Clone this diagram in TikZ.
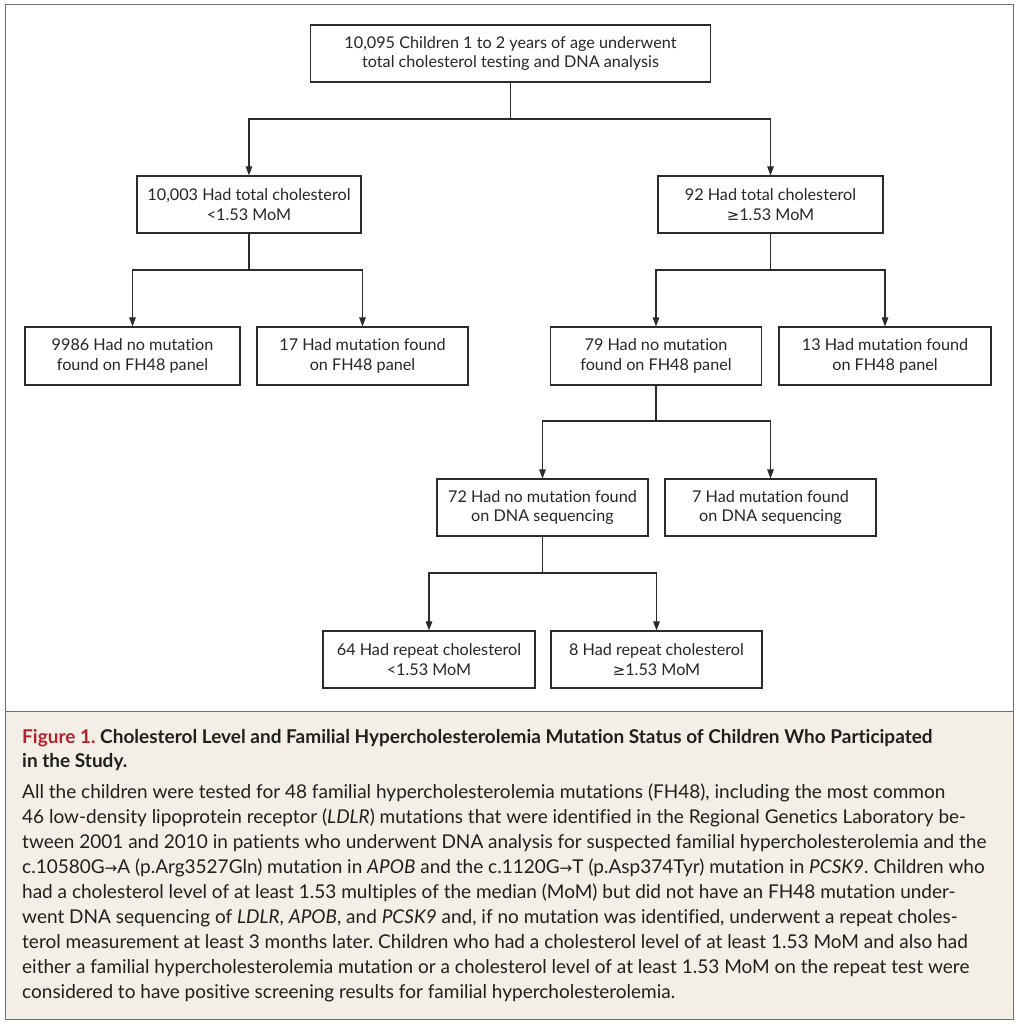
\documentclass[tikz,border=0pt]{standalone}
\usepackage{fontspec}
\setmainfont{Lato}[Ligatures=NoCommon]
\newfontfamily\symfont{DejaVu Sans}
\usetikzlibrary{arrows.meta}
\definecolor{framegray}{HTML}{6E6E6E}
\definecolor{capbg}{HTML}{F4EFE6}
\definecolor{figred}{HTML}{B3222E}
\definecolor{boxline}{HTML}{2B2B2B}
\newcommand{\gesym}{\scalebox{0.92}{\symfont ≥}}
\newcommand{\arsym}{\scalebox{0.8}{\symfont →}}
\frenchspacing
\begin{document}
\begin{tikzpicture}[x=1pt,y=-1pt,
  box/.style={draw=boxline, line width=1.1pt, minimum height=57pt, inner sep=0pt, align=center, font=\fontsize{16.2}{19.5}\selectfont, text=black!85},
  arr/.style={draw=boxline, line width=1.1pt, -{Triangle[length=9pt,width=6.5pt]}},
  ln/.style={draw=boxline, line width=1.1pt},
  captext/.style={anchor=base west, inner sep=0pt, font=\fontsize{19}{25}\selectfont, text=black!88},
  captitle/.style={captext, font=\fontsize{19}{25}\selectfont\bfseries}
]
\useasboundingbox (0,0) rectangle (1020,1024);
\fill[white] (0,0) rectangle (1020,1024);
\fill[capbg] (5.5,711.5) rectangle (1013.5,1019.5);
\draw[framegray, line width=1.6pt] (5.5,4.5) rectangle (1013.5,1019.5);
\draw[framegray, line width=1.6pt] (5.5,711.5) -- (1013.5,711.5);

% boxes
\node[box, minimum width=400pt] (top) at (510.5,53.5) {10,095 Children 1 to 2 years of age underwent\\total cholesterol testing and DNA analysis};
\node[box, minimum width=224pt] (L1) at (249,204.5) {10,003 Had total cholesterol\\<1.53 MoM};
\node[box, minimum width=225pt] (R1) at (770.5,204.5) {92 Had total cholesterol\\\gesym1.53 MoM};
\node[box, minimum width=215pt, minimum height=58pt] (L2a) at (132.5,356) {9986 Had no mutation\\found on FH48 panel};
\node[box, minimum width=211pt, minimum height=58pt] (L2b) at (362.5,356) {17 Had mutation found\\on FH48 panel};
\node[box, minimum width=211pt, minimum height=58pt] (R2a) at (656,356) {79 Had no mutation\\found on FH48 panel};
\node[box, minimum width=212pt, minimum height=58pt] (R2b) at (885,356) {13 Had mutation found\\on FH48 panel};
\node[box, minimum width=211pt] (R3a) at (542.5,507.5) {72 Had no mutation found\\on DNA sequencing};
\node[box, minimum width=211pt] (R3b) at (770.5,507.5) {7 Had mutation found\\on DNA sequencing};
\node[box, minimum width=212pt] (B1) at (429,659.5) {64 Had repeat cholesterol\\<1.53 MoM};
\node[box, minimum width=211pt] (B2) at (656.5,659.5) {8 Had repeat cholesterol\\\gesym1.53 MoM};

% junctions
\coordinate (j1) at (510.5,119);
\coordinate (j2) at (249,270);
\coordinate (j3) at (770.5,270);
\coordinate (j4) at (656,421);
\coordinate (j5) at (542.5,573);

\draw[ln] (top.south) -- (j1);
\draw[arr] (j1) -| (L1.north);
\draw[arr] (j1) -| (R1.north);
\draw[ln] (L1.south) -- (j2);
\draw[arr] (j2) -| (L2a.north);
\draw[arr] (j2) -| (L2b.north);
\draw[ln] (R1.south) -- (j3);
\draw[arr] (j3) -| (R2a.north);
\draw[arr] (j3) -| (R2b.north);
\draw[ln] (R2a.south) -- (j4);
\draw[arr] (j4) -| (R3a.north);
\draw[arr] (j4) -| (R3b.north);
\draw[ln] (R3a.south) -- (j5);
\draw[arr] (j5) -| (B1.north);
\draw[arr] (j5) -| (B2.north);

% caption
\node[captitle] (t1) at (22,743) {\textcolor{figred}{Figure 1.} Cholesterol Level and Familial Hypercholesterolemia Mutation Status of Children Who Participated};
\node[captitle] (t2) at (22,767) {in the Study.};
\node[captext] (c1) at (22,798) {All the children were tested for 48 familial hypercholesterolemia mutations (FH48), including the most common};
\node[captext] (c2) at (22,823) {46 low-density lipoprotein receptor (\textit{LDLR}) mutations that were identified in the Regional Genetics Laboratory be-};
\node[captext] (c3) at (22,848) {tween 2001 and 2010 in patients who underwent DNA analysis for suspected familial hypercholesterolemia and the};
\node[captext] (c4) at (22,873) {c.10580G\arsym A (p.Arg3527Gln) mutation in \textit{APOB} and the c.1120G\arsym T (p.Asp374Tyr) mutation in \textit{PCSK9}. Children who};
\node[captext] (c5) at (22,898) {had a cholesterol level of at least 1.53 multiples of the median (MoM) but did not have an FH48 mutation under-};
\node[captext] (c6) at (22,923) {went DNA sequencing of \textit{LDLR}, \textit{APOB}, and \textit{PCSK9} and, if no mutation was identified, underwent a repeat choles-};
\node[captext] (c7) at (22,948) {terol measurement at least 3 months later. Children who had a cholesterol level of at least 1.53 MoM and also had};
\node[captext] (c8) at (22,973) {either a familial hypercholesterolemia mutation or a cholesterol level of at least 1.53 MoM on the repeat test were};
\node[captext] (c9) at (22,998) {considered to have positive screening results for familial hypercholesterolemia.};
\end{tikzpicture}
\end{document}
